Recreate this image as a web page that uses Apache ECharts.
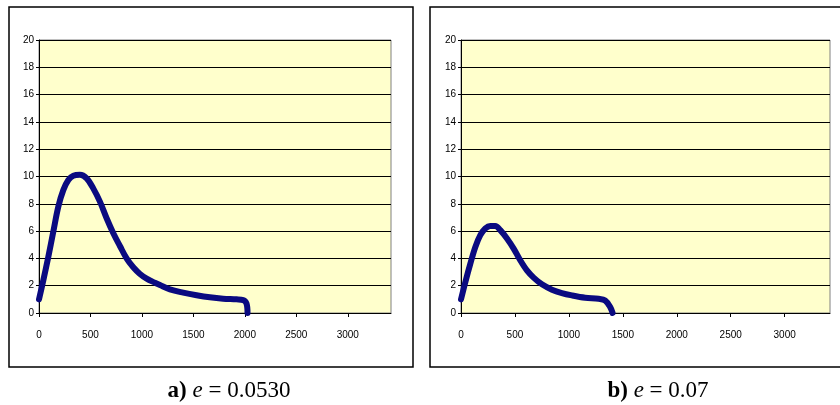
<!DOCTYPE html>
<html>
<head>
<meta charset="utf-8">
<script src="https://cdn.jsdelivr.net/npm/echarts@6/dist/echarts.min.js"></script>
<style>
  html, body { margin: 0; padding: 0; background: #fff; }
  #main { width: 840px; height: 405px; }
</style>
</head>
<body>
<div id="main"></div>
<script>
// curve a) e = 0.0530
const xA = [0, 42, 90, 139, 188, 236, 285, 333, 398, 463, 527, 592, 657, 722, 786, 851, 916, 981, 1046, 1126, 1175, 1272, 1401, 1531, 1660, 1789, 1919, 1984, 2016, 2026]
const yA = [1.0, 2.4, 4.1, 5.96, 7.8, 9.0, 9.74, 10.06, 10.12, 9.86, 9.13, 8.16, 6.94, 5.84, 4.91, 4.0, 3.35, 2.86, 2.52, 2.22, 2.05, 1.73, 1.49, 1.3, 1.15, 1.05, 1.0, 0.95, 0.7, 0]
// curve b) e = 0.07
const xB = [0, 40, 86, 133, 179, 225, 271, 318, 364, 426, 488, 549, 611, 673, 750, 843, 935, 1028, 1151, 1275, 1336, 1383, 1405]
const yB = [1.0, 2.26, 3.6, 4.84, 5.7, 6.19, 6.38, 6.38, 6.07, 5.46, 4.72, 3.86, 3.12, 2.59, 2.1, 1.71, 1.46, 1.29, 1.12, 1.04, 0.92, 0.43, 0]

const xMin = 0
const xMax = 3420
const xStep = 500
const yMin = 0
const yMax = 20
const yStep = 2
const captions = [
  { tag: 'a) ', val: ' = 0.0530' },
  { tag: 'b) ', val: ' = 0.07' }
]

function pairs(xs, ys) {
  return xs.map((x, i) => [x, ys[i]])
}

const chart = echarts.init(document.getElementById('main'))

const axisFont = { fontFamily: 'Liberation Sans', fontSize: 10, color: '#000' }

function xAxisFor(idx) {
  return {
    gridIndex: idx,
    type: 'value',
    min: xMin,
    max: xMax,
    interval: xStep,
    axisLine: { show: true, onZero: false, lineStyle: { color: '#000', width: 1 } },
    axisTick: { show: true, inside: false, length: 4, lineStyle: { color: '#000' } },
    axisLabel: { ...axisFont, margin: 17, showMaxLabel: false, formatter: v => String(v) },
    splitLine: { show: false }
  }
}

function yAxisFor(idx) {
  return {
    gridIndex: idx,
    type: 'value',
    min: yMin,
    max: yMax,
    interval: yStep,
    axisLine: { show: true, lineStyle: { color: '#000', width: 1 } },
    axisTick: { show: true, length: 3, lineStyle: { color: '#000' } },
    axisLabel: { ...axisFont, margin: 5 },
    splitLine: { show: true, lineStyle: { color: '#000', width: 1 } }
  }
}

function lineSeries(idx, data) {
  return {
    type: 'line',
    xAxisIndex: idx,
    yAxisIndex: idx,
    data: data,
    smooth: 0.35,
    symbol: 'none',
    lineStyle: { color: '#0a0a80', width: 6, cap: 'round', join: 'round' },
    animation: false
  }
}

const capRich = {
  b: { fontFamily: 'Liberation Serif', fontSize: 23, fontWeight: 'bold', color: '#000' },
  i: { fontFamily: 'Liberation Serif', fontSize: 23, fontStyle: 'italic', color: '#000' },
  n: { fontFamily: 'Liberation Serif', fontSize: 23, color: '#000' }
}

chart.setOption({
  backgroundColor: '#fff',
  animation: false,
  grid: [
    { left: 39, top: 40, width: 352, height: 273, show: true, backgroundColor: '#FFFFCC', borderColor: '#808080', borderWidth: 1 },
    { left: 461, top: 40, width: 369, height: 273, show: true, backgroundColor: '#FFFFCC', borderColor: '#808080', borderWidth: 1 }
  ],
  xAxis: [xAxisFor(0), xAxisFor(1)],
  yAxis: [yAxisFor(0), yAxisFor(1)],
  series: [lineSeries(0, pairs(xA, yA)), lineSeries(1, pairs(xB, yB))],
  graphic: [
    { type: 'rect', shape: { x: 9, y: 7, width: 404, height: 360 }, style: { fill: 'none', stroke: '#000', lineWidth: 1.5 }, z: -1 },
    { type: 'rect', shape: { x: 430, y: 7, width: 420, height: 360 }, style: { fill: 'none', stroke: '#000', lineWidth: 1.5 }, z: -1 },
    {
      type: 'text', x: 229, y: 391,
      style: {
        text: '{b|' + captions[0].tag + '}{i|e}{n|' + captions[0].val + '}',
        rich: capRich, align: 'center', verticalAlign: 'middle'
      }
    },
    {
      type: 'text', x: 658, y: 391,
      style: {
        text: '{b|' + captions[1].tag + '}{i|e}{n|' + captions[1].val + '}',
        rich: capRich, align: 'center', verticalAlign: 'middle'
      }
    }
  ]
})
</script>
</body>
</html>
